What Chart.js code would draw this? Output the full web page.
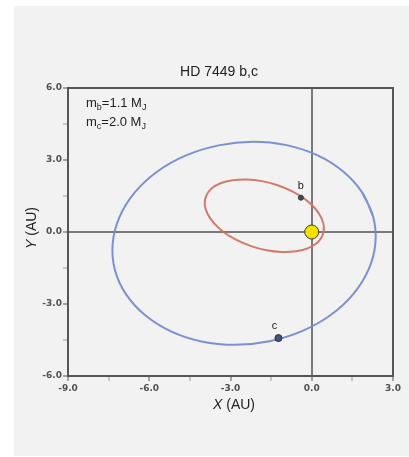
<!DOCTYPE html>
<html>
<head>
<meta charset="utf-8">
<script src="https://cdn.jsdelivr.net/npm/chart.js@4.4.0/dist/chart.umd.min.js"></script>
<style>
  html, body { margin: 0; padding: 0; background: #fff; overflow: hidden; }
  canvas { display: block; }
</style>
</head>
<body>
<canvas id="orbitChart" width="409" height="457"></canvas>
<script>
// HD 7449 system, top-down view of the two orbits (AU)
var titleText = "HD 7449 b,c";
var xMajorTicks = [-9, -6, -3, 0, 3];
var yMajorTicks = [-6, -3, 0, 3, 6];
var massB = 1.1;
var massC = 2.0;

// orbit of planet c, traced every 15 degrees
var orbitC = [
  [2.27, 0.63], [1.86, 1.65], [1.16, 2.52], [0.20, 3.20], [-0.93, 3.62], [-2.18, 3.76],
  [-3.44, 3.61], [-4.64, 3.19], [-5.70, 2.52], [-6.54, 1.64], [-7.10, 0.62], [-7.35, -0.48],
  [-7.27, -1.57], [-6.86, -2.59], [-6.16, -3.46], [-5.20, -4.14], [-4.07, -4.56], [-2.82, -4.70],
  [-1.56, -4.55], [-0.36, -4.13], [0.70, -3.46], [1.54, -2.58], [2.10, -1.56], [2.35, -0.46]
];

// orbit of planet b
var orbitB = [
  [0.40, -0.14], [0.45, 0.21], [0.35, 0.60], [0.11, 1.00], [-0.25, 1.37], [-0.72, 1.69],
  [-1.26, 1.95], [-1.84, 2.12], [-2.40, 2.19], [-2.92, 2.16], [-3.37, 2.03], [-3.70, 1.81],
  [-3.90, 1.50], [-3.95, 1.15], [-3.85, 0.76], [-3.61, 0.37], [-3.25, -0.01], [-2.78, -0.33],
  [-2.24, -0.59], [-1.67, -0.76], [-1.10, -0.83], [-0.58, -0.80], [-0.13, -0.67], [0.20, -0.45]
];

var starPos = [0, 0];
var planetB = [-0.40, 1.43];
var planetC = [-1.23, -4.42];

function toPoints(list) {
  var pts = list.map(function (p) { return { x: p[0], y: p[1] }; });
  // repeat the start so the loop closes smoothly
  pts.push(pts[0], pts[1]);
  return pts;
}

function isMajor(v, list) {
  for (var i = 0; i < list.length; i++) {
    if (Math.abs(v - list[i]) < 1e-6) return true;
  }
  return false;
}

var FONT = "'Liberation Sans', Arial, sans-serif";
var TICK_FONT = "'DejaVu Sans', Verdana, sans-serif";

var decorPlugin = {
  id: 'decor',
  beforeDraw: function (chart) {
    var ctx = chart.ctx;
    ctx.save();
    ctx.fillStyle = '#f2f2f2';
    ctx.fillRect(14, 6, 420, 450);
    ctx.restore();
  },
  afterDatasetsDraw: function (chart) {
    var ctx = chart.ctx;
    var a = chart.chartArea;
    var xs = chart.scales.x, ys = chart.scales.y;
    ctx.save();

    // plot frame
    ctx.strokeStyle = '#555';
    ctx.lineWidth = 2;
    ctx.strokeRect(a.left, a.top, a.right - a.left, a.bottom - a.top);

    // title
    ctx.fillStyle = '#222';
    ctx.font = '14px ' + FONT;
    ctx.textAlign = 'center';
    ctx.textBaseline = 'alphabetic';
    ctx.fillText(titleText, 219, 76);

    // masses
    drawWithSubs(ctx, 86, 107, [['m', 0], ['b', 1], ['=' + massB.toFixed(1) + ' M', 0], ['J', 1]]);
    drawWithSubs(ctx, 86, 126, [['m', 0], ['c', 1], ['=' + massC.toFixed(1) + ' M', 0], ['J', 1]]);

    // planet labels
    ctx.font = '11px ' + FONT;
    ctx.fillStyle = '#222';
    ctx.textAlign = 'center';
    ctx.fillText('b', xs.getPixelForValue(planetB[0]), ys.getPixelForValue(planetB[1]) - 9);
    ctx.fillText('c', xs.getPixelForValue(planetC[0]) - 4, ys.getPixelForValue(planetC[1]) - 9);

    // axis titles
    ctx.textAlign = 'left';
    ctx.font = 'italic 14px ' + FONT;
    var wX = ctx.measureText('X').width;
    ctx.font = '14px ' + FONT;
    var wRest = ctx.measureText(' (AU)').width;
    var x0 = 234 - (wX + wRest) / 2;
    ctx.font = 'italic 14px ' + FONT;
    ctx.fillText('X', x0, 409);
    ctx.font = '14px ' + FONT;
    ctx.fillText(' (AU)', x0 + wX, 409);

    ctx.translate(32, 228);
    ctx.rotate(-Math.PI / 2);
    ctx.textBaseline = 'middle';
    ctx.font = 'italic 14px ' + FONT;
    var wY = ctx.measureText('Y').width;
    var y0 = -(wY + wRest) / 2;
    ctx.fillText('Y', y0, 0);
    ctx.font = '14px ' + FONT;
    ctx.fillText(' (AU)', y0 + wY, 0);

    ctx.restore();
  }
};

function drawWithSubs(ctx, x, y, parts) {
  ctx.textAlign = 'left';
  ctx.textBaseline = 'alphabetic';
  ctx.fillStyle = '#222';
  for (var i = 0; i < parts.length; i++) {
    var sub = parts[i][1];
    ctx.font = (sub ? '9px ' : '13px ') + FONT;
    ctx.fillText(parts[i][0], x, sub ? y + 3 : y);
    x += ctx.measureText(parts[i][0]).width;
  }
}

function zeroLine(c) {
  return c.tick && Math.abs(c.tick.value) < 1e-6 ? '#7a7a7a' : 'rgba(0,0,0,0)';
}

function tickShade(list) {
  return function (c) {
    return c.tick && isMajor(c.tick.value, list) ? '#555' : '#999';
  };
}

var ctx = document.getElementById('orbitChart').getContext('2d');
var chart = new Chart(ctx, {
  type: 'scatter',
  data: {
    datasets: [
      {
        label: 'star',
        data: [{ x: starPos[0], y: starPos[1] }],
        pointRadius: 7,
        backgroundColor: '#f4e100',
        borderColor: '#3a3a3a',
        borderWidth: 1
      },
      {
        label: 'b',
        data: [{ x: planetB[0], y: planetB[1] }],
        pointRadius: 2.5,
        backgroundColor: '#4a4a4a',
        borderColor: '#333',
        borderWidth: 1
      },
      {
        label: 'c',
        data: [{ x: planetC[0], y: planetC[1] }],
        pointRadius: 3.5,
        backgroundColor: '#445577',
        borderColor: '#2a2f3f',
        borderWidth: 1
      },
      {
        label: 'orbit b',
        data: toPoints(orbitB),
        showLine: true,
        tension: 0.4,
        pointRadius: 0,
        borderColor: 'rgba(205,118,100,0.95)',
        borderWidth: 2
      },
      {
        label: 'orbit c',
        data: toPoints(orbitC),
        showLine: true,
        tension: 0.4,
        pointRadius: 0,
        borderColor: 'rgba(118,138,208,0.95)',
        borderWidth: 2
      }
    ]
  },
  options: {
    responsive: false,
    devicePixelRatio: 1,
    animation: false,
    layout: { padding: { left: 0, top: 88, right: 16, bottom: 0 } },
    plugins: {
      legend: { display: false },
      tooltip: { enabled: false },
      title: { display: false }
    },
    scales: {
      x: {
        type: 'linear',
        min: -9,
        max: 3,
        afterFit: function (s) { s.height = 81; },
        border: { display: false },
        grid: {
          drawOnChartArea: true,
          color: zeroLine,
          lineWidth: 2,
          tickColor: tickShade(xMajorTicks),
          tickWidth: 1,
          tickLength: 5
        },
        ticks: {
          stepSize: 1.5,
          autoSkip: false,
          maxRotation: 0,
          padding: 2,
          color: '#505050',
          font: { family: TICK_FONT, size: 9, weight: 'bold' },
          callback: function (v) { return isMajor(v, xMajorTicks) ? v.toFixed(1) : ''; }
        }
      },
      y: {
        type: 'linear',
        min: -6,
        max: 6,
        afterFit: function (s) { s.width = 68; },
        border: { display: false },
        grid: {
          drawOnChartArea: true,
          color: zeroLine,
          lineWidth: 2,
          tickColor: tickShade(yMajorTicks),
          tickWidth: 1,
          tickLength: 5
        },
        ticks: {
          stepSize: 1.5,
          autoSkip: false,
          padding: 1,
          color: '#505050',
          font: { family: TICK_FONT, size: 9, weight: 'bold' },
          callback: function (v) { return isMajor(v, yMajorTicks) ? v.toFixed(1) : ''; }
        }
      }
    }
  },
  plugins: [decorPlugin]
});
</script>
</body>
</html>
